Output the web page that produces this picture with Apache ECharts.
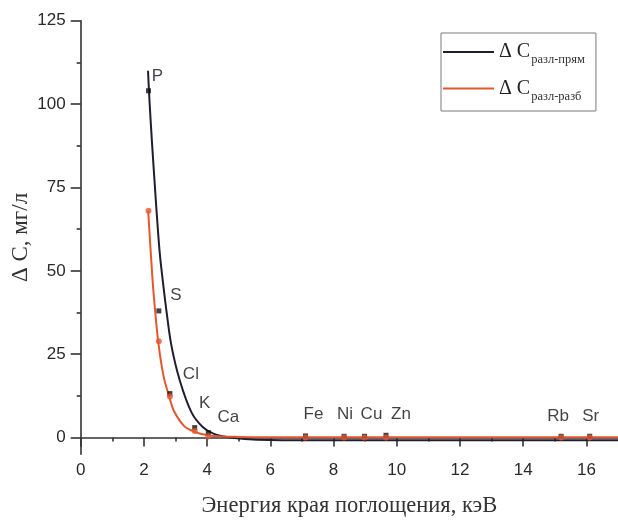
<!DOCTYPE html>
<html>
<head>
<meta charset="utf-8">
<script src="https://cdn.jsdelivr.net/npm/echarts@6/dist/echarts.min.js"></script>
<style>
  html, body { margin: 0; padding: 0; background: #ffffff; }
  #chart { width: 618px; height: 521px; }
</style>
</head>
<body>
<div id="chart"></div>
<script>
// Absorption-edge energies (keV) of the measured elements
const elements = ['P', 'S', 'Cl', 'K', 'Ca', 'Fe', 'Ni', 'Cu', 'Zn', 'Rb', 'Sr'];
const edgeEnergy = [2.145, 2.472, 2.822, 3.607, 4.038, 7.112, 8.333, 8.979, 9.659, 15.2, 16.105];

// ΔC, mg/l for both measurement schemes
const dcDirect = [104, 38, 13.2, 3, 1.5, 0.5, 0.4, 0.4, 0.7, 0.4, 0.4];
const dcDilute = [68, 28.9, 12.3, 2, 0.3, 0, 0, 0, 0, 0, 0];

// Fitted decay curves, sampled along the energy axis
const fitDirectX = [2.13, 2.16, 2.21, 2.30, 2.49, 2.61, 2.72, 2.87, 3.14, 3.51, 3.86, 4.2, 4.61, 5.2, 6, 8, 17];
const fitDirectY = [110, 104, 95.5, 82, 56.5, 46, 37.5, 27.6, 17, 7.5, 3.2, 1.2, 0.2, -0.4, -0.7, -0.8, -0.8];
const fitDiluteX = [2.135, 2.22, 2.30, 2.45, 2.62, 2.80, 2.95, 3.29, 3.6, 3.82, 4.2, 5, 6, 17];
const fitDiluteY = [68, 55, 44, 29, 18.5, 12.3, 8, 3.3, 1.8, 1.1, 0.5, 0.2, 0.1, 0.1];

// Axis ticks
const xTicks = [0, 2, 4, 6, 8, 10, 12, 14, 16];
const xMinorTicks = [1, 3, 5, 7, 9, 11, 13, 15];
const yTicks = [0, 25, 50, 75, 100, 125];
const yMinorTicks = [12.5, 37.5, 62.5, 87.5, 112.5];

const seriesNames = ['ΔC разл-прям', 'ΔC разл-разб'];
const legendSubs = ['разл-прям', 'разл-разб'];

// Label placement (px offset from each black marker)
const labelOffsets = [[9, -14], [17, -16], [21, -19], [10, -24], [20, -15],
  [8, -22], [1, -22], [7, -22], [15, -21], [-3, -20], [1, -20]];

const SERIF = '"Liberation Serif", "DejaVu Serif", serif';
const SANS = '"Liberation Sans", Arial, sans-serif';
const AXIS_COLOR = '#333333';
const BLACK = '#1e1e30';
const RED = '#e4572e';

const zip = (xs, ys) => xs.map((x, i) => [x, ys[i]]);

const chart = echarts.init(document.getElementById('chart'), null, { renderer: 'canvas' });

const baseAxisX = {
  type: 'value', min: 0, max: 17,
  splitLine: { show: false }
};
const baseAxisY = {
  type: 'value', min: -5, max: 125,
  splitLine: { show: false }
};

chart.setOption({
  backgroundColor: '#ffffff',
  animation: false,
  grid: { left: 80.7, right: 0, top: 20.7, bottom: 66.7, containLabel: false, outerBoundsMode: 'none' },
  xAxis: [
    Object.assign({}, baseAxisX, {
      position: 'bottom',
      name: 'Энергия края поглощения, кэВ',
      nameLocation: 'middle',
      nameGap: 40,
      nameMoveOverlap: false,
      nameTextStyle: { fontFamily: SERIF, fontSize: 22.5, color: '#333' },
      axisLine: { show: true, lineStyle: { color: AXIS_COLOR, width: 1.6 } },
      axisTick: { show: true, length: 9, customValues: xTicks, lineStyle: { color: AXIS_COLOR, width: 1.6 } },
      axisLabel: { show: true, customValues: xTicks, margin: 8, fontFamily: SANS, fontSize: 17, color: '#2a2a2a' }
    }),
    Object.assign({}, baseAxisX, {
      position: 'bottom', offset: 0,
      axisLine: { show: false },
      axisTick: { show: true, length: 4, customValues: xMinorTicks, lineStyle: { color: AXIS_COLOR, width: 1.6 } },
      axisLabel: { show: false }
    })
  ],
  yAxis: [
    Object.assign({}, baseAxisY, {
      position: 'left',
      name: 'Δ C, мг/л',
      nameLocation: 'middle',
      nameGap: 48,
      nameMoveOverlap: false,
      nameTextStyle: { fontFamily: SERIF, fontSize: 23, color: '#333' },
      axisLine: { show: true, lineStyle: { color: AXIS_COLOR, width: 1.6 } },
      axisTick: { show: true, length: 10, customValues: yTicks, lineStyle: { color: AXIS_COLOR, width: 1.6 } },
      axisLabel: { show: true, customValues: yTicks, margin: 15, fontFamily: SANS, fontSize: 17, color: '#2a2a2a' }
    }),
    Object.assign({}, baseAxisY, {
      position: 'left', offset: 0,
      axisLine: { show: false },
      axisTick: { show: true, length: 4, customValues: yMinorTicks, lineStyle: { color: AXIS_COLOR, width: 1.6 } },
      axisLabel: { show: false }
    })
  ],
  legend: {
    orient: 'vertical',
    left: 441, top: 33,
    padding: [9, 11, 8, 2],
    icon: 'rect',
    itemWidth: 51, itemHeight: 2, itemGap: 12,
    borderColor: '#7a7a7a', borderWidth: 1,
    data: seriesNames,
    formatter: name => '{m|Δ C}{s|' + legendSubs[seriesNames.indexOf(name)] + '}',
    textStyle: {
      rich: {
        m: { fontFamily: SERIF, fontSize: 20, color: '#222' },
        s: { fontFamily: SERIF, fontSize: 12.5, color: '#333', padding: [16, 0, 0, 1] }
      }
    }
  },
  series: [
    {
      name: seriesNames[0], type: 'line', symbol: 'none', smooth: 0.35,
      data: zip(fitDirectX, fitDirectY),
      lineStyle: { color: BLACK, width: 2 }, itemStyle: { color: BLACK }, z: 2
    },
    {
      name: seriesNames[1], type: 'line', symbol: 'none', smooth: 0.35,
      data: zip(fitDiluteX, fitDiluteY),
      lineStyle: { color: RED, width: 2 }, itemStyle: { color: RED }, z: 3
    },
    {
      name: 'pointsDirect', type: 'scatter', symbol: 'rect', symbolSize: 5,
      data: zip(edgeEnergy, dcDirect),
      itemStyle: { color: '#111' }, z: 4,
      label: {
        show: true, position: 'inside',
        formatter: p => elements[p.dataIndex],
        fontFamily: SANS, fontSize: 17, color: '#111'
      },
      labelLayout: p => ({ dx: labelOffsets[p.dataIndex][0], dy: labelOffsets[p.dataIndex][1] })
    },
    {
      name: 'pointsDilute', type: 'scatter', symbol: 'circle', symbolSize: 6,
      data: zip(edgeEnergy, dcDilute),
      itemStyle: { color: RED }, z: 5
    }
  ]
});
</script>
</body>
</html>
